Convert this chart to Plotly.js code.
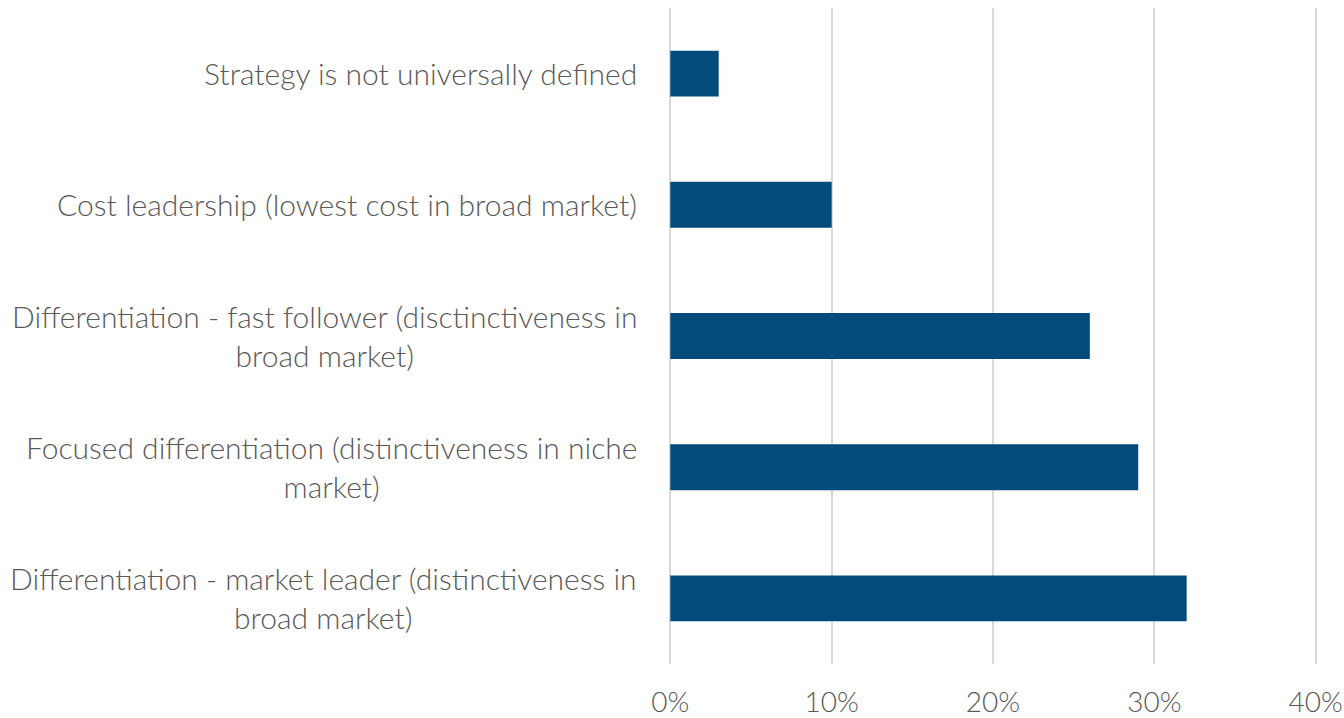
<!DOCTYPE html>
<html>
<head>
<meta charset="utf-8">
<script src="https://cdn.plot.ly/plotly-3.0.1.min.js"></script>
<style>html,body{margin:0;padding:0;background:#fff;}#chart{width:1344px;height:718px;}</style>
</head>
<body>
<div id="chart"></div>
<script>
const categories = [
  "Strategy is not universally defined",
  "Cost leadership (lowest cost in broad market)",
  "Differentiation - fast follower (disctinctiveness in<br>broad market)",
  "Focused differentiation (distinctiveness in niche<br>market)",
  "Differentiation - market leader (distinctiveness in<br>broad market)"
];
const values = [0.03, 0.10, 0.26, 0.29, 0.32];
const tickVals = [0, 0.1, 0.2, 0.3, 0.4];
const tickText = ["0%", "10%", "20%", "30%", "40%"];

const FONT = "Lato, 'Open Sans', sans-serif";
const GRAY = "#595959";

const trace = {
  type: "bar",
  orientation: "h",
  x: values,
  y: categories,
  width: 0.35,
  marker: {color: "#034b7b"},
  hoverinfo: "none"
};

const annotations = categories.map(c => ({
  xref: "paper", yref: "y",
  x: 0, y: c,
  xanchor: "right", yanchor: "middle",
  xshift: -30,
  yshift: 1,
  text: c, align: "center", showarrow: false,
  font: {family: FONT, size: 30, color: GRAY, weight: 300}
}));

const layout = {
  width: 1344, height: 718,
  margin: {l: 669, r: 27, t: 8, b: 54},
  paper_bgcolor: "#fff", plot_bgcolor: "#fff",
  showlegend: false,
  xaxis: {
    range: [-0.0008, 0.4008],
    tickvals: tickVals, ticktext: tickText,
    showgrid: true, gridcolor: "#d9d9d9", gridwidth: 2,
    zeroline: false, showline: false,
    ticks: "", ticklabelstandoff: 19,
    tickfont: {family: FONT, size: 28, color: GRAY, weight: 300},
    fixedrange: true
  },
  yaxis: {
    autorange: "reversed",
    showticklabels: false, showgrid: false, zeroline: false, showline: false,
    ticks: "", fixedrange: true
  },
  annotations: annotations
};

Plotly.newPlot("chart", [trace], layout, {displayModeBar: false, staticPlot: true});
</script>
</body>
</html>
